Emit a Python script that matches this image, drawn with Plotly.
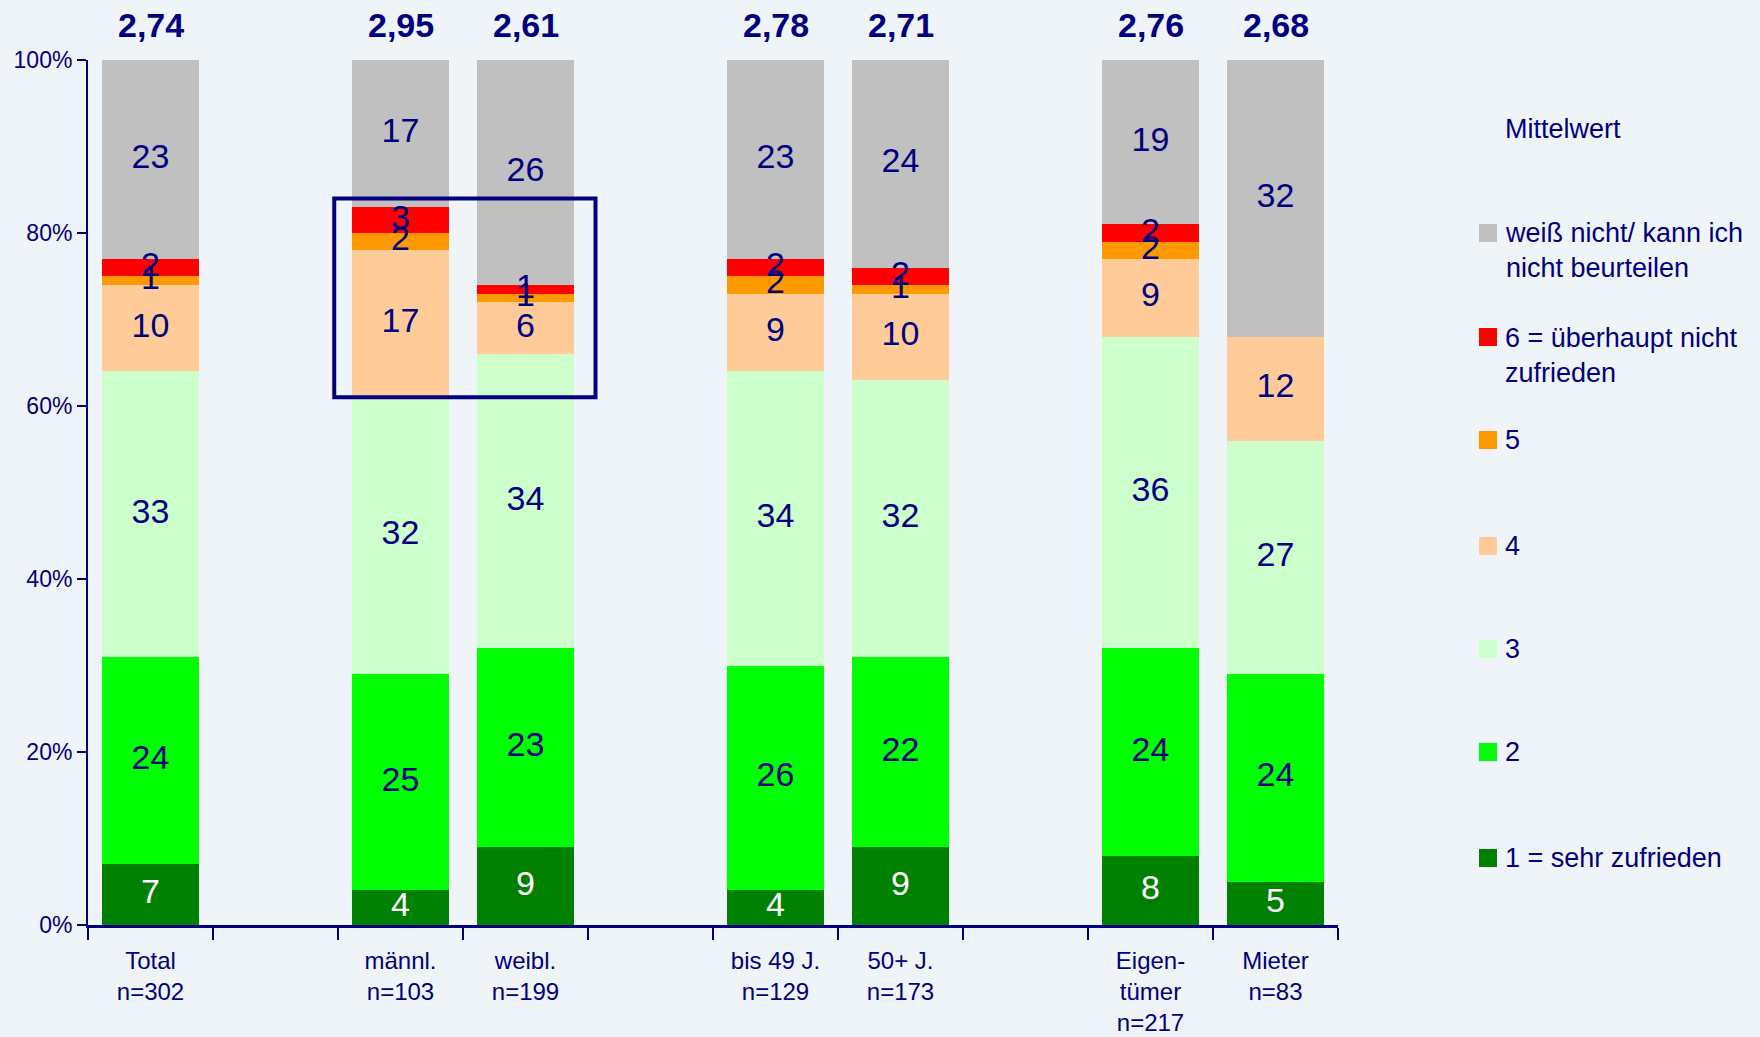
import plotly.graph_objects as go

# Groups (with empty spacer slots between the blocks)
groups = ["Total<br>n=302", " ", "männl.<br>n=103", "weibl.<br>n=199", "  ",
          "bis 49 J.<br>n=129", "50+ J.<br>n=173", "   ",
          "Eigen-<br>tümer<br>n=217", "Mieter<br>n=83"]
bar_groups = ["Total<br>n=302", "männl.<br>n=103", "weibl.<br>n=199",
              "bis 49 J.<br>n=129", "50+ J.<br>n=173",
              "Eigen-<br>tümer<br>n=217", "Mieter<br>n=83"]

# Answer shares in percent, stacked bottom to top
s1 = [7, 4, 9, 4, 9, 8, 5]          # 1 = sehr zufrieden
s2 = [24, 25, 23, 26, 22, 24, 24]   # 2
s3 = [33, 32, 34, 34, 32, 36, 27]   # 3
s4 = [10, 17, 6, 9, 10, 9, 12]      # 4
s5 = [1, 2, 1, 2, 1, 2, 0]          # 5
s6 = [2, 3, 1, 2, 2, 2, 0]          # 6 = überhaupt nicht zufrieden
s_dk = [23, 17, 26, 23, 24, 19, 32]  # weiß nicht / kann ich nicht beurteilen

means = ["2,74", "2,95", "2,61", "2,78", "2,71", "2,76", "2,68"]

y_ticks = [0, 20, 40, 60, 80, 100]
y_tick_text = ["0%", "20%", "40%", "60%", "80%", "100%"]

series_names = ["1 = sehr zufrieden", "2", "3", "4", "5",
                "6 = überhaupt nicht<br>zufrieden",
                "weiß nicht/ kann ich<br>nicht beurteilen"]
series_values = [s1, s2, s3, s4, s5, s6, s_dk]
series_colors = ["#008000", "#00FF00", "#CCFFCC", "#FFCC99", "#FF9900",
                 "#FF0000", "#C0C0C0"]
label_colors = ["#FFFFFF", "#000080", "#000080", "#000080", "#000080",
                "#000080", "#000080"]

NAVY = "#000080"
BG = "#EFF4F8"
FONT = "Liberation Sans, Arial, sans-serif"

W, H = 1760, 1037
M_L, M_R, M_T, M_B = 88, 422, 60, 112
PW = W - M_L - M_R
PH = H - M_T - M_B

fig = go.Figure()

bases = [0] * len(bar_groups)
for name, vals, col, lcol in zip(series_names, series_values, series_colors, label_colors):
    fig.add_trace(go.Bar(
        x=bar_groups, y=vals, name=name, marker=dict(color=col, line=dict(width=0)),
        showlegend=False, hoverinfo="skip",
    ))
    mids = [b + v / 2 for b, v in zip(bases, vals)]
    txt = [str(v) if v > 0 else "" for v in vals]
    fig.add_trace(go.Scatter(
        x=bar_groups, y=mids, text=txt, mode="text",
        textfont=dict(family=FONT, size=34, color=lcol),
        textposition="middle center", showlegend=False, hoverinfo="skip",
        cliponaxis=False,
    ))
    bases = [b + v for b, v in zip(bases, vals)]

# Mean values above each bar
for g, m in zip(bar_groups, means):
    fig.add_annotation(x=g, y=100, yref="y", text="<b>%s</b>" % m, showarrow=False,
                       yanchor="middle", yshift=35,
                       font=dict(family=FONT, size=34, color=NAVY))

# Highlight frame around the gender block
fig.add_shape(type="rect", xref="x", yref="y", x0=1.47, x1=3.56, y0=61, y1=84,
              line=dict(color=NAVY, width=4), fillcolor="rgba(0,0,0,0)")

# Legend drawn at fixed pixel positions
def px_x(px):
    return (px - M_L) / PW

def px_y(py):
    return (H - M_B - py) / PH

legend_items = [
    ("Mittelwert", None, 129),
    ("weiß nicht/ kann ich<br>nicht beurteilen", "#C0C0C0", 251),
    ("6 = überhaupt nicht<br>zufrieden", "#FF0000", 355),
    ("5", "#FF9900", 440),
    ("4", "#FFCC99", 546),
    ("3", "#CCFFCC", 649),
    ("2", "#00FF00", 752),
    ("1 = sehr zufrieden", "#008000", 858),
]
for text, col, cy in legend_items:
    fig.add_annotation(xref="paper", yref="paper", x=px_x(1503), y=px_y(cy),
                       text=text, showarrow=False, xanchor="left", yanchor="middle",
                       align="left",
                       font=dict(family=FONT, size=27, color=NAVY))
    if col:
        sq_y = cy - 18 if "<br>" in text else cy
        fig.add_shape(type="rect", xref="paper", yref="paper",
                      x0=px_x(1479), x1=px_x(1497), y0=px_y(sq_y + 9), y1=px_y(sq_y - 9),
                      fillcolor=col, line=dict(width=0))

fig.update_layout(
    width=W, height=H,
    barmode="stack", bargap=0.22,
    paper_bgcolor=BG, plot_bgcolor=BG,
    margin=dict(l=M_L, r=M_R, t=M_T, b=M_B, autoexpand=False),
    font=dict(family=FONT, color=NAVY),
    showlegend=False,
)
fig.update_xaxes(
    type="category", categoryorder="array", categoryarray=groups,
    range=[-0.5, 9.5], tickson="boundaries", ticks="outside", ticklen=12,
    tickwidth=2, tickcolor=NAVY, showline=True, linecolor=NAVY, linewidth=3,
    showgrid=False, zeroline=False, ticklabelstandoff=12,
    tickfont=dict(family=FONT, size=24, color=NAVY),
)
fig.update_yaxes(
    range=[0, 100], tickmode="array", tickvals=y_ticks, ticktext=y_tick_text,
    ticks="outside", ticklen=9, tickwidth=2, tickcolor=NAVY,
    showline=True, linecolor=NAVY, linewidth=2, showgrid=False, zeroline=False,
    tickfont=dict(family=FONT, size=23, color=NAVY),
)

fig.write_html("out.html")
